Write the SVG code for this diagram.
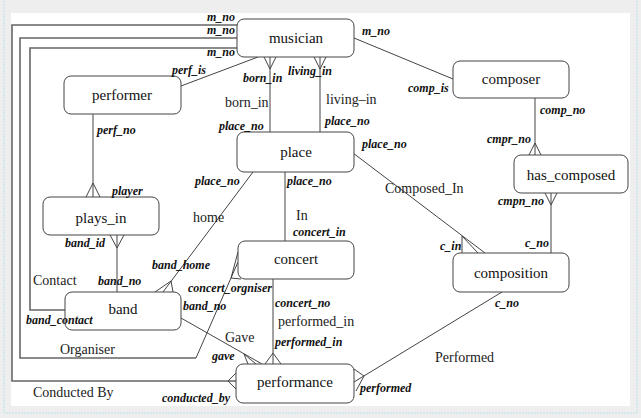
<svg xmlns="http://www.w3.org/2000/svg" width="641" height="418" viewBox="0 0 641 418">
<style>
.bg{fill:#eeeeee}
.page{fill:#ffffff}
.edge{fill:none;stroke:#444;stroke-width:1}
.frame{fill:none;stroke:#666;stroke-width:1.6}
.box{fill:#fff;stroke:#444;stroke-width:1}
.nl{font-family:"Liberation Serif",serif;font-size:15px;fill:#111;text-anchor:middle}
.rl{font-family:"Liberation Serif",serif;font-size:14px;fill:#222}
.ro{font-family:"Liberation Serif",serif;font-size:12px;font-weight:bold;font-style:italic;fill:#111}
</style>
<rect class="bg" x="0" y="0" width="641" height="418"/>
<rect x="4" y="-2" width="633" height="415" fill="none" stroke="#b8e0ea" stroke-width="1" stroke-dasharray="2,1"/>
<rect class="page" x="11" y="13" width="619" height="393"/>

<g id="connectors">
  <!-- frame lines from musician -->
  <path class="frame" d="M237,25 H12 V381 H236"/>
  <path class="frame" d="M237,38 H20 V358 H196"/>
  <path class="frame" d="M237,48 H30 V310 H65"/>
  <path class="edge" d="M196,358 L238,262 M231,278 L238,252 M231,278 L241,279"/>
  <path class="edge" d="M228,381 L236,373 M228,381 L236,389"/>
  <!-- musician - performer -->
  <path class="edge" d="M258,57 L181,86"/>
  <!-- born_in -->
  <path class="edge" d="M270,57 V132 M270,69 L264,57 M270,69 L276,57"/>
  <!-- living_in -->
  <path class="edge" d="M320,57 V132 M320,69 L314,57 M320,69 L326,57"/>
  <!-- musician - composer -->
  <path class="edge" d="M354,38 L453,79"/>
  <!-- performer - plays_in -->
  <path class="edge" d="M93,114 V197 M93,183 L86,197 M93,183 L100,197"/>
  <!-- plays_in - band -->
  <path class="edge" d="M117,235 V292 M117,248 L110,235 M117,248 L124,235"/>
  <!-- place - band home -->
  <path class="edge" d="M253,172 L163,292 M171,281 L155,292 M171,281 L173,292"/>
  <!-- place - concert -->
  <path class="edge" d="M285,172 V241"/>
  <!-- place - composition -->
  <path class="edge" d="M353,153 L485,253 M462,236 L462,253 M462,236 L478,253"/>
  <!-- composer - has_composed -->
  <path class="edge" d="M535,98 V155 M535,143 L529,155 M535,143 L541,155"/>
  <!-- has_composed - composition -->
  <path class="edge" d="M551,193 V253 M551,205 L545,193 M551,205 L557,193"/>
  <!-- concert - performance -->
  <path class="edge" d="M273,279 V364 M273,353 L265,364 M273,353 L281,364"/>
  <!-- composition - performance -->
  <path class="edge" d="M502,292 L354,382 M364,376 L354,369 M364,376 L356,391"/>
  <!-- band - performance -->
  <path class="edge" d="M181,318 L262,364 M244,354 L248,364 M244,354 L256,364"/>
</g>

<g id="musician"><rect class="box" x="237" y="19" width="117" height="38" rx="7"/><text class="nl" x="296" y="43">musician</text></g>
<g id="performer"><rect class="box" x="64" y="76" width="117" height="38" rx="7"/><text class="nl" x="122" y="100">performer</text></g>
<g id="composer"><rect class="box" x="453" y="61" width="116" height="37" rx="7"/><text class="nl" x="511" y="84">composer</text></g>
<g id="place"><rect class="box" x="237" y="132" width="117" height="40" rx="7"/><text class="nl" x="296" y="157">place</text></g>
<g id="plays_in"><rect class="box" x="43" y="197" width="116" height="38" rx="7"/><text class="nl" x="101" y="223">plays_in</text></g>
<g id="has_composed"><rect class="box" x="514" y="155" width="114" height="38" rx="7"/><text class="nl" x="571" y="180">has_composed</text></g>
<g id="concert"><rect class="box" x="238" y="241" width="116" height="38" rx="7"/><text class="nl" x="296" y="264">concert</text></g>
<g id="composition"><rect class="box" x="453" y="253" width="116" height="39" rx="7"/><text class="nl" x="511" y="278">composition</text></g>
<g id="band"><rect class="box" x="65" y="292" width="116" height="38" rx="7"/><text class="nl" x="123" y="314">band</text></g>
<g id="performance"><rect class="box" x="236" y="364" width="118" height="39" rx="7"/><text class="nl" x="295" y="387">performance</text></g>

<g id="labels">
  <text class="ro" x="207" y="21">m_no</text>
  <text class="ro" x="207" y="34">m_no</text>
  <text class="ro" x="207" y="56">m_no</text>
  <text class="ro" x="172" y="74">perf_is</text>
  <text class="ro" x="243" y="82">born_in</text>
  <text class="ro" x="288" y="75">living_in</text>
  <text class="rl" x="225" y="107">born_in</text>
  <text class="rl" x="326" y="104">living–in</text>
  <text class="ro" x="219" y="130">place_no</text>
  <text class="ro" x="325" y="125">place_no</text>
  <text class="ro" x="362" y="148">place_no</text>
  <text class="ro" x="362" y="35">m_no</text>
  <text class="ro" x="408" y="92">comp_is</text>
  <text class="ro" x="540" y="114">comp_no</text>
  <text class="ro" x="487" y="143">cmpr_no</text>
  <text class="ro" x="498" y="205">cmpn_no</text>
  <text class="ro" x="525" y="247">c_no</text>
  <text class="ro" x="440" y="250">c_in</text>
  <text class="rl" x="385" y="193">Composed_In</text>
  <text class="ro" x="97" y="134">perf_no</text>
  <text class="ro" x="195" y="185">place_no</text>
  <text class="ro" x="287" y="185">place_no</text>
  <text class="ro" x="112" y="195">player</text>
  <text class="rl" x="193" y="222">home</text>
  <text class="rl" x="296" y="220">In</text>
  <text class="ro" x="293" y="236">concert_in</text>
  <text class="ro" x="65" y="247">band_id</text>
  <text class="ro" x="152" y="269">band_home</text>
  <text class="rl" x="33" y="285">Contact</text>
  <text class="ro" x="98" y="285">band_no</text>
  <text class="ro" x="188" y="292">concert_orgniser</text>
  <text class="ro" x="183" y="310">band_no</text>
  <text class="ro" x="275" y="307">concert_no</text>
  <text class="ro" x="26" y="324">band_contact</text>
  <text class="rl" x="278" y="326">performed_in</text>
  <text class="rl" x="225" y="342">Gave</text>
  <text class="ro" x="275" y="346">performed_in</text>
  <text class="rl" x="60" y="354">Organiser</text>
  <text class="ro" x="212" y="360">gave</text>
  <text class="rl" x="33" y="397">Conducted By</text>
  <text class="ro" x="162" y="402">conducted_by</text>
  <text class="ro" x="360" y="392">performed</text>
  <text class="rl" x="435" y="362">Performed</text>
  <text class="ro" x="495" y="307">c_no</text>
</g>
</svg>
